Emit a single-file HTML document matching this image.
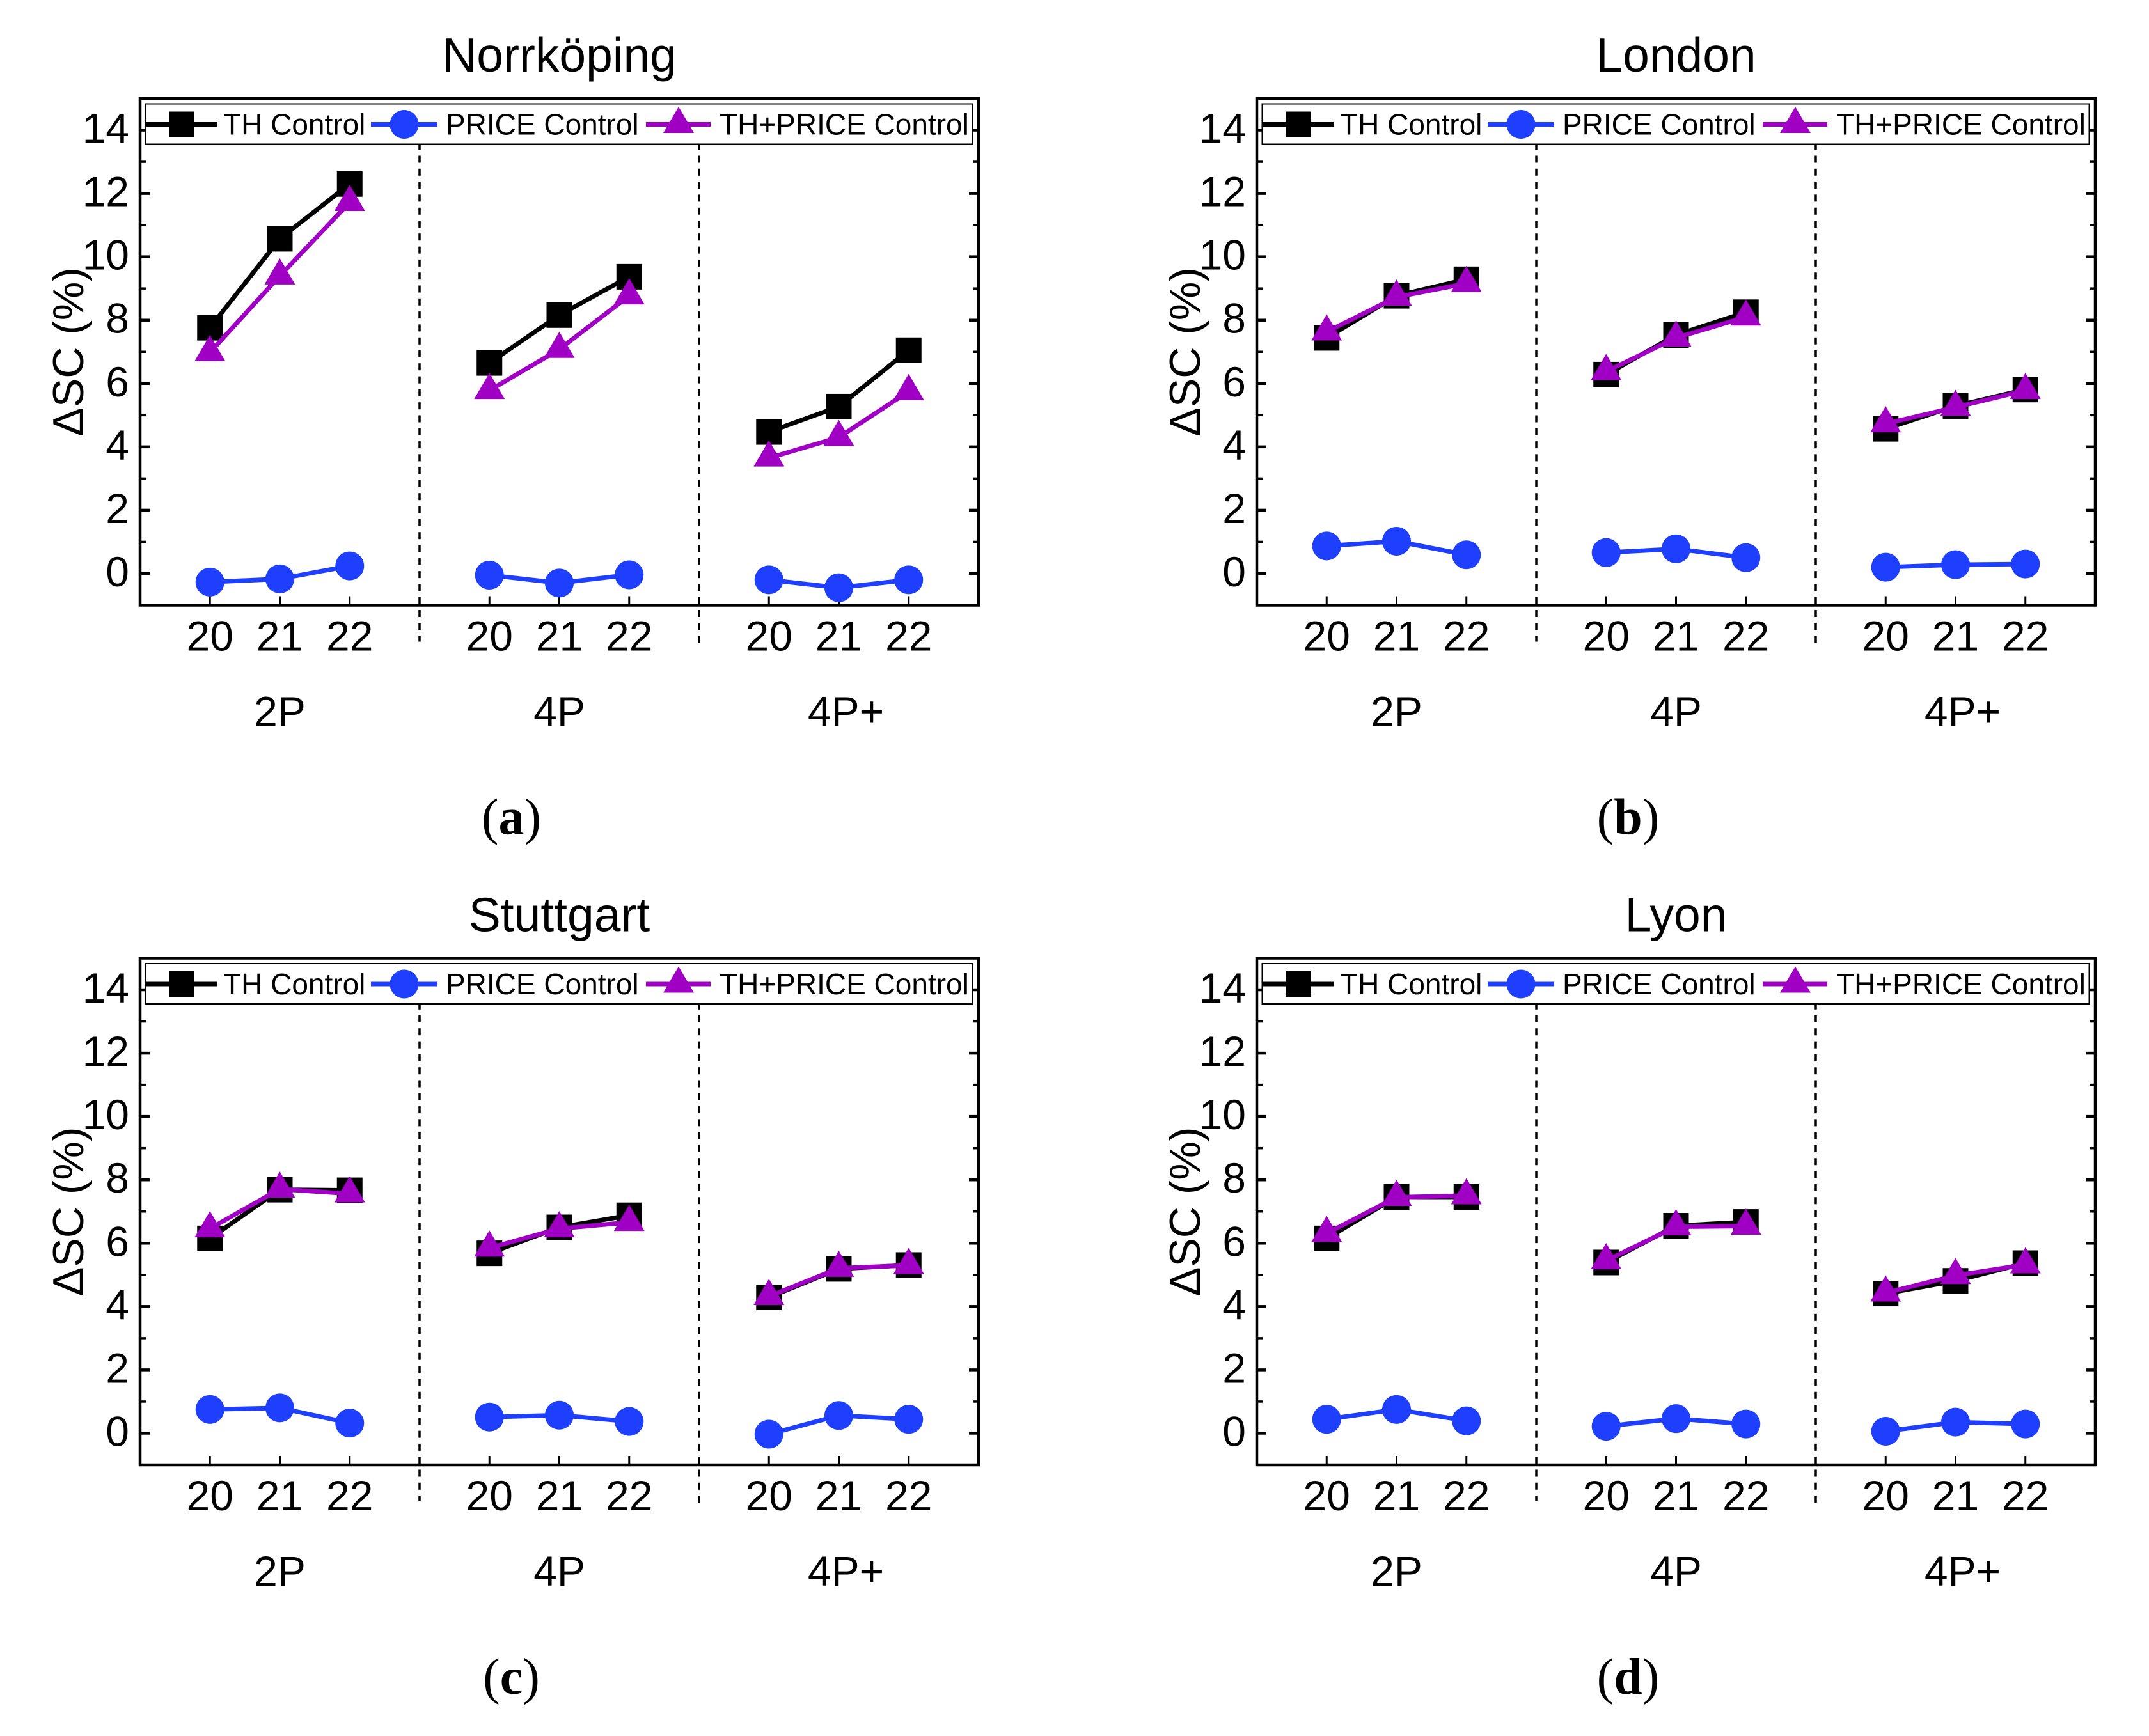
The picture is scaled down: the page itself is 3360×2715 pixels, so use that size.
<!DOCTYPE html>
<html lang="en">
<head>
<meta charset="utf-8">
<title>ΔSC by control strategy</title>
<style>
html,body{margin:0;padding:0;background:#fff;}
svg{display:block;}
text{font-family:"Liberation Sans",sans-serif;fill:#000;}
.serif{font-family:"Liberation Serif",serif;}
</style>
</head>
<body>
<svg id="chart" xmlns="http://www.w3.org/2000/svg" width="3360" height="2715" viewBox="0 0 3360 2715">
<rect x="0" y="0" width="3360" height="2715" fill="#fff"/>
</svg>
<script>
const years = ['20', '21', '22'];
const configs = ['2P', '4P', '4P+'];
const yTicks = [0, 2, 4, 6, 8, 10, 12, 14];
const yMinorTicks = [1, 3, 5, 7, 9, 11, 13];
const seriesNames = ['TH Control', 'PRICE Control', 'TH+PRICE Control'];

const norrkopingTh = [7.76, 10.57, 12.3, 6.65, 8.16, 9.37, 4.47, 5.27, 7.05];
const norrkopingPrice = [-0.27, -0.17, 0.24, -0.05, -0.3, -0.04, -0.2, -0.45, -0.2];
const norrkopingBoth = [6.98, 9.4, 11.72, 5.78, 7.08, 8.77, 3.65, 4.3, 5.75];

const londonTh = [7.44, 8.77, 9.29, 6.28, 7.53, 8.25, 4.57, 5.29, 5.81];
const londonPrice = [0.87, 1.02, 0.59, 0.66, 0.78, 0.5, 0.2, 0.28, 0.3];
const londonBoth = [7.63, 8.73, 9.16, 6.38, 7.44, 8.1, 4.73, 5.25, 5.78];

const stuttgartTh = [6.15, 7.69, 7.67, 5.68, 6.5, 6.88, 4.29, 5.19, 5.31];
const stuttgartPrice = [0.75, 0.8, 0.32, 0.51, 0.57, 0.37, -0.03, 0.56, 0.44];
const stuttgartBoth = [6.46, 7.71, 7.56, 5.85, 6.46, 6.66, 4.32, 5.21, 5.3];

const lyonTh = [6.15, 7.46, 7.46, 5.39, 6.55, 6.67, 4.41, 4.81, 5.37];
const lyonPrice = [0.44, 0.75, 0.39, 0.22, 0.46, 0.29, 0.06, 0.35, 0.29];
const lyonBoth = [6.31, 7.45, 7.5, 5.45, 6.52, 6.54, 4.43, 4.98, 5.32];

const panelTitles = ['Norrköping', 'London', 'Stuttgart', 'Lyon'];
const panelLetters = ['a', 'b', 'c', 'd'];
const panelTh = [norrkopingTh, londonTh, stuttgartTh, lyonTh];
const panelPrice = [norrkopingPrice, londonPrice, stuttgartPrice, lyonPrice];
const panelBoth = [norrkopingBoth, londonBoth, stuttgartBoth, lyonBoth];

const NS = 'http://www.w3.org/2000/svg';
const BLACK = '#000000', BLUE = '#1f3fff', PURPLE = '#9f00c4';
const PLOT_W = 1311, PLOT_H = 792.5;
const COL_LEFT = [219, 1965], ROW_TOP = [154, 1498.5];
const X_MIN = 0, X_MAX = 12, Y_MIN = -1, Y_MAX = 15;

const root = document.getElementById('chart');

function mk(parent, tag, attrs, name, text) {
  const el = document.createElementNS(NS, tag);
  for (const k in attrs) el.setAttribute(k, attrs[k]);
  
  
  if (text !== undefined) el.textContent = text;
  parent.appendChild(el);
  return el;
}
function xAxis(p, v) { return p.left + (v - X_MIN) / (X_MAX - X_MIN) * PLOT_W; }
function yAxis(p, v) { return p.top + PLOT_H - (v - Y_MIN) / (Y_MAX - Y_MIN) * PLOT_H; }
function slot(g, i) { return 1 + 4 * g + i; }

function square(g, cx, cy, color, name) {
  mk(g, 'rect', {x: cx - 20, y: cy - 20, width: 40, height: 40, fill: color}, name);
}
function circle(g, cx, cy, color, name) {
  mk(g, 'circle', {cx: cx, cy: cy, r: 22.5, fill: color}, name);
}
function triangle(g, cx, cy, color, name) {
  mk(g, 'polygon', {points: (cx) + ',' + (cy - 27.5) + ' ' + (cx + 24) + ',' + (cy + 13.5) + ' ' + (cx - 24) + ',' + (cy + 13.5), fill: color}, name);
}

function drawSeries(g, p, values, color, marker, key) {
  const s = mk(g, 'g', {}, key + '-series');
  configs.forEach(function (cfg, gi) {
    const pts = years.map(function (yr, i) {
      return xAxis(p, slot(gi, i)) + ',' + yAxis(p, values[gi * years.length + i]);
    }).join(' ');
    mk(s, 'polyline', {points: pts, fill: 'none', stroke: color, 'stroke-width': 7, 'stroke-linejoin': 'miter'}, key + '-line-' + cfg);
  });
  configs.forEach(function (cfg, gi) {
    years.forEach(function (yr, i) {
      const v = values[gi * years.length + i];
      marker(s, xAxis(p, slot(gi, i)), yAxis(p, v), color, key + '-point-' + cfg + '-' + yr);
    });
  });
}

function drawLegend(g, p) {
  const l = mk(g, 'g', {}, 'legend');
  const L = p.left, T = p.top;
  mk(l, 'rect', {x: L + 8.5, y: T + 8.5, width: 1293, height: 63, fill: '#fff', stroke: '#000', 'stroke-width': 2}, 'legend-box');
  const cy = T + 40.5, base = T + 56.5;
  const e1 = mk(l, 'g', {}, 'legend-entry-th');
  mk(e1, 'line', {x1: L + 10, x2: L + 120, y1: cy, y2: cy, stroke: BLACK, 'stroke-width': 7}, 'legend-line-th');
  square(e1, L + 65, cy, BLACK, 'legend-marker-th');
  mk(e1, 'text', {x: L + 130, y: base, 'font-size': 46}, 'legend-label-th', seriesNames[0]);
  const e2 = mk(l, 'g', {}, 'legend-entry-price');
  mk(e2, 'line', {x1: L + 361, x2: L + 465, y1: cy, y2: cy, stroke: BLUE, 'stroke-width': 7}, 'legend-line-price');
  circle(e2, L + 413, cy, BLUE, 'legend-marker-price');
  mk(e2, 'text', {x: L + 478, y: base, 'font-size': 46}, 'legend-label-price', seriesNames[1]);
  const e3 = mk(l, 'g', {}, 'legend-entry-both');
  mk(e3, 'line', {x1: L + 791, x2: L + 892, y1: cy, y2: cy, stroke: PURPLE, 'stroke-width': 7}, 'legend-line-both');
  triangle(e3, L + 842, cy, PURPLE, 'legend-marker-both');
  mk(e3, 'text', {x: L + 906, y: base, 'font-size': 46}, 'legend-label-both', seriesNames[2]);
}

panelTitles.forEach(function (title, idx) {
  const p = {left: COL_LEFT[idx % 2], top: ROW_TOP[Math.floor(idx / 2)]};
  const R = p.left + PLOT_W, B = p.top + PLOT_H;
  const g = mk(root, 'g', {}, 'panel-' + panelLetters[idx]);

  mk(g, 'text', {x: xAxis(p, 6), y: p.top - 42, 'font-size': 75, 'text-anchor': 'middle'}, 'panel-title', title);

  /* dashed group separators */
  [4, 8].forEach(function (v, n) {
    const x = xAxis(p, v);
    mk(g, 'line', {x1: x, x2: x, y1: p.top + 69.2, y2: B + (n === 0 ? 57 : 68), stroke: '#000', 'stroke-width': 3.5, 'stroke-dasharray': '11 9.3'}, 'group-separator');
  });

  /* y ticks */
  yTicks.forEach(function (v) {
    const y = yAxis(p, v);
    mk(g, 'line', {x1: p.left, x2: p.left + 15, y1: y, y2: y, stroke: '#000', 'stroke-width': 4.5}, 'y-tick');
    mk(g, 'line', {x1: R, x2: R - 15, y1: y, y2: y, stroke: '#000', 'stroke-width': 4.5}, 'y-tick-right');
    mk(g, 'text', {x: p.left - 17, y: y + 20, 'font-size': 66, 'text-anchor': 'end'}, 'y-tick-label', String(v));
  });
  yMinorTicks.forEach(function (v) {
    const y = yAxis(p, v);
    mk(g, 'line', {x1: p.left, x2: p.left + 9, y1: y, y2: y, stroke: '#000', 'stroke-width': 3.5}, 'y-minor-tick');
    mk(g, 'line', {x1: R, x2: R - 9, y1: y, y2: y, stroke: '#000', 'stroke-width': 3.5}, 'y-minor-tick-right');
  });

  /* x ticks and labels */
  configs.forEach(function (cfg, gi) {
    years.forEach(function (yr, i) {
      const x = xAxis(p, slot(gi, i));
      mk(g, 'line', {x1: x, x2: x, y1: B, y2: B - 14, stroke: '#000', 'stroke-width': 3}, 'x-tick');
      mk(g, 'text', {x: x, y: B + 71, 'font-size': 66, 'text-anchor': 'middle'}, 'x-tick-label', yr);
    });
    const off = cfg === '4P+' ? 11 : 0;
    mk(g, 'text', {x: xAxis(p, slot(gi, 1)) + off, y: B + 189, 'font-size': 66, 'text-anchor': 'middle'}, 'group-label', cfg);
  });

  /* series */
  drawSeries(g, p, panelTh[idx], BLACK, square, 'th-control');
  drawSeries(g, p, panelPrice[idx], BLUE, circle, 'price-control');
  drawSeries(g, p, panelBoth[idx], PURPLE, triangle, 'th-price-control');

  /* frame */
  mk(g, 'rect', {x: p.left, y: p.top, width: PLOT_W, height: PLOT_H, fill: 'none', stroke: '#000', 'stroke-width': 4.5}, 'plot-frame');

  drawLegend(g, p);

  /* y axis title */
  const cy = p.top + PLOT_H / 2;
  const tx = p.left - 89;
  mk(g, 'text', {x: tx, y: cy, 'font-size': 68, 'text-anchor': 'middle', transform: 'rotate(-90 ' + tx + ' ' + cy + ')'}, 'y-axis-title', 'ΔSC (%)');

  /* panel letter */
  const t = mk(g, 'text', {x: xAxis(p, 6) - 75, y: B + 358, 'font-size': 80, 'text-anchor': 'middle', 'class': 'serif'}, 'panel-letter');
  t.appendChild(document.createTextNode('('));
  const b = document.createElementNS(NS, 'tspan');
  
  
  b.setAttribute('font-weight', 'bold');
  b.textContent = panelLetters[idx];
  t.appendChild(b);
  t.appendChild(document.createTextNode(')'));
});
</script>
</body>
</html>
